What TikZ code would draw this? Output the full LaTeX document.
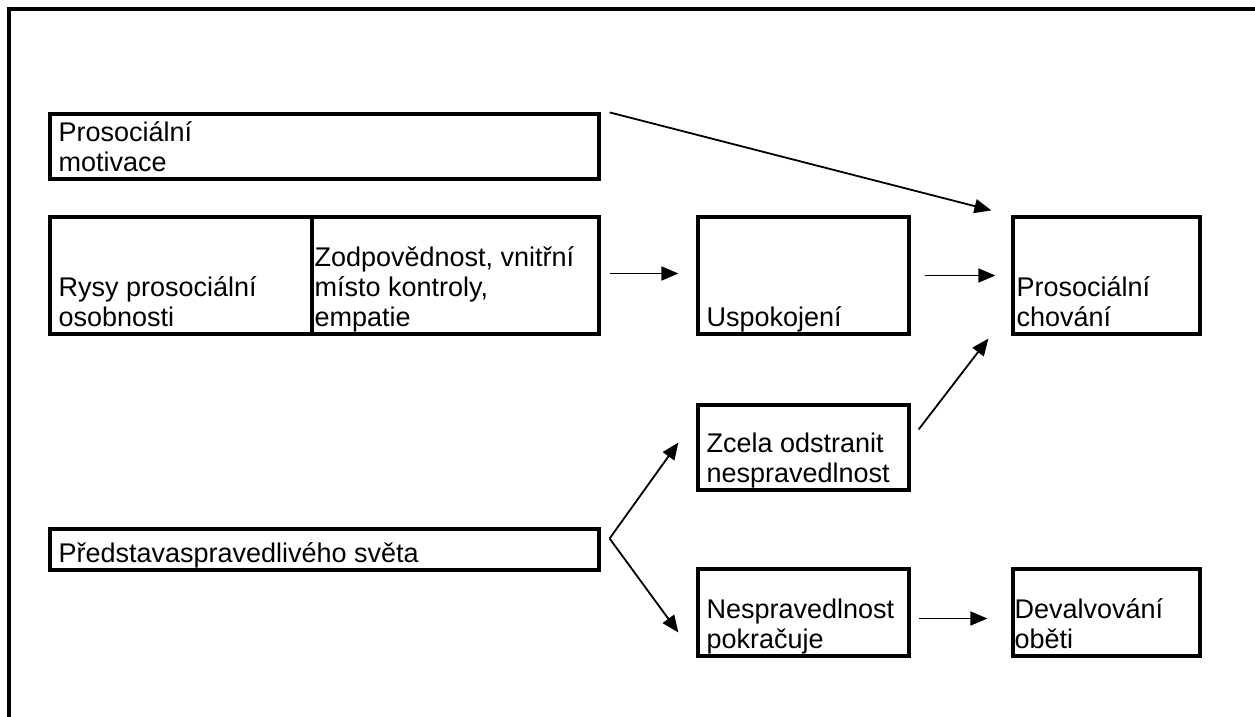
\documentclass[tikz,border=0pt]{standalone}
\usepackage{fontspec}
\setmainfont{Liberation Sans}
\usetikzlibrary{arrows.meta}
\usetikzlibrary{positioning}
\tikzstyle{box} = [rectangle, draw=black, line width=3.2bp, inner sep=0pt]
\tikzstyle{txt} = [anchor=base west, inner sep=0pt, font=\fontsize{27bp}{30bp}\selectfont]
\tikzstyle{link} = [line width=1.8bp, -{Triangle[length=17bp,width=14bp]}]
\newcommand{\boxtext}[1]{\begin{tabular}[b]{@{}l@{}}#1\end{tabular}}

\begin{document}
\begin{tikzpicture}[x=1bp, y=-1bp]
\useasboundingbox (0,0) rectangle (1255,717);
% frame
\draw[line width=3.4bp] (9,720) -- (9,9) -- (1258,9);

% boxes
\node (motiv) [box, minimum width=549bp, minimum height=65bp] at (324.5,146.5) {};
\node (rysy) [box, minimum width=262bp, minimum height=117bp] at (181,275.5) {};
\node (zodp) [box, minimum width=287bp, minimum height=117bp] at (455.5,275.5) {};
\node (uspok) [box, minimum width=211bp, minimum height=117bp] at (803.5,275.5) {};
\node (chovani) [box, minimum width=187bp, minimum height=117bp] at (1106.5,275.5) {};
\node (zcela) [box, minimum width=211bp, minimum height=85bp] at (803.5,447.5) {};
\node (predstava) [box, minimum width=549bp, minimum height=41bp] at (324.5,549.5) {};
\node (nespr) [box, minimum width=211bp, minimum height=87bp] at (803.5,612.5) {};
\node (devalv) [box, minimum width=187bp, minimum height=87bp] at (1106.5,612.5) {};

% texts
\node (motivtxt) [txt] at ([shift={(10bp,9bp)}]motiv.south west) {\boxtext{Prosociální\\motivace}};
\node (rysytxt) [txt] at ([shift={(10bp,9bp)}]rysy.south west) {\boxtext{Rysy prosociální\\osobnosti}};
\node (zodptxt) [txt] at ([shift={(4bp,9bp)}]zodp.south west) {\boxtext{Zodpovědnost, vnitřní\\místo kontroly,\\empatie}};
\node (uspoktxt) [txt] at ([shift={(10bp,9bp)}]uspok.south west) {\boxtext{Uspokojení}};
\node (chovanitxt) [txt] at ([shift={(5bp,9bp)}]chovani.south west) {\boxtext{Prosociální\\chování}};
\node (zcelatxt) [txt] at ([shift={(10bp,9bp)}]zcela.south west) {\boxtext{Zcela odstranit\\nespravedlnost}};
\node (predstavatxt) [txt] at ([shift={(10bp,9bp)}]predstava.south west) {\boxtext{Představaspravedlivého světa}};
\node (nesprtxt) [txt] at ([shift={(10bp,9bp)}]nespr.south west) {\boxtext{Nespravedlnost\\pokračuje}};
\node (devalvtxt) [txt] at ([shift={(3bp,9bp)}]devalv.south west) {\boxtext{Devalvování\\oběti}};

% arrows
\draw[link] ([xshift=9bp]motiv.north east) -- ([shift={(-20bp,5bp)}]chovani.north west);
\draw[link] ([shift={(9bp,2bp)}]zodp.east) -- ([shift={(-18bp,2bp)}]uspok.west);
\draw[link] ([xshift=14bp]uspok.east) -- ([xshift=-16bp]chovani.west);
\draw[link] ([shift={(8bp,18bp)}]zcela.east) -- ([shift={(-23bp,-3bp)}]chovani.south west);
\coordinate (fork) at ([shift={(9bp,11bp)}]predstava.east);
\draw[link] (fork) -- ([shift={(-18bp,5bp)}]zcela.west);
\draw[link] (fork) -- ([shift={(-18bp,-20bp)}]nespr.west);
\draw[link] ([shift={(8bp,-6bp)}]nespr.east) -- ([shift={(-24bp,-6bp)}]devalv.west);
\end{tikzpicture}
\end{document}
